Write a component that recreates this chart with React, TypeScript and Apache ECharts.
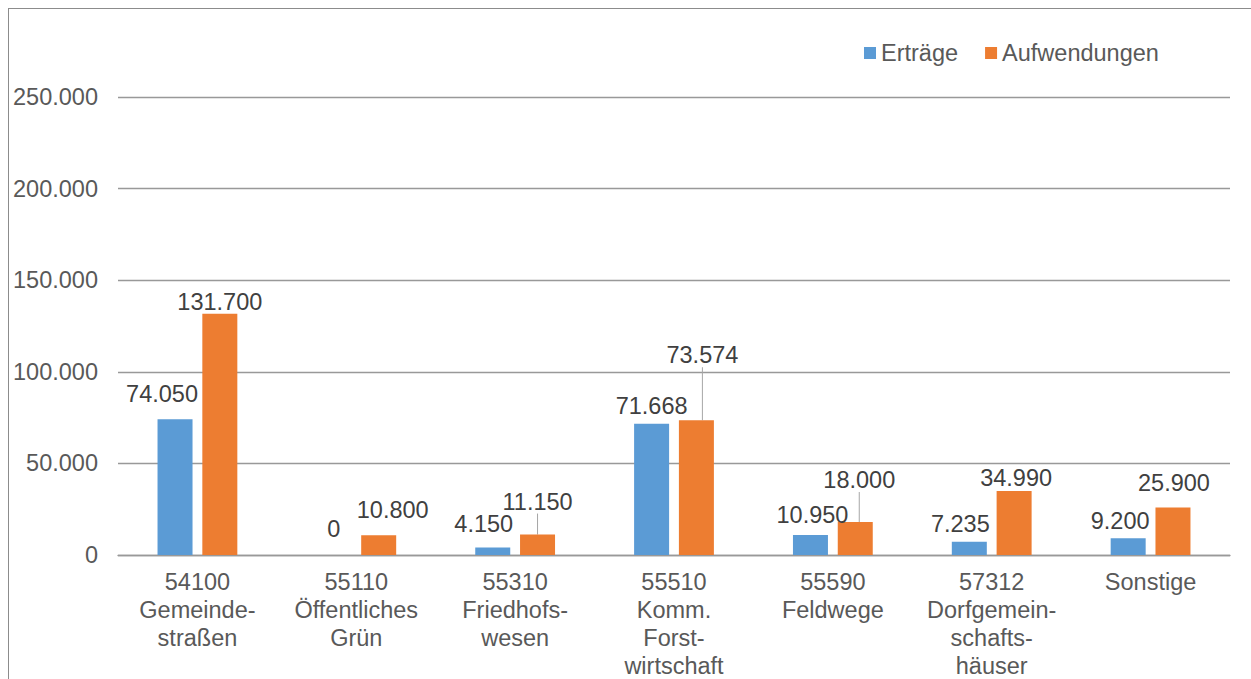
import React, { useEffect, useRef } from "react";
import * as echarts from "echarts";

const categories = [
  "54100\nGemeinde-\nstraßen",
  "55110\nÖffentliches\nGrün",
  "55310\nFriedhofs-\nwesen",
  "55510\nKomm.\nForst-\nwirtschaft",
  "55590\nFeldwege",
  "57312\nDorfgemein-\nschafts-\nhäuser",
  "Sonstige",
];
const ertraege = [74050, 0, 4150, 71668, 10950, 7235, 9200];
const aufwendungen = [131700, 10800, 11150, 73574, 18000, 34990, 25900];
const yTicks = { min: 0, max: 250000, interval: 50000 };

// label nudges (dx, dy) in px, as placed in the original
const shiftErtraege = [[-13, -8], [0, -9], [-9, -6], [0, -1], [2, -3], [-9, -1], [-8, 0]];
const shiftAufwendungen = [[0, 5], [14, -8], [0, -16], [6, -48], [4, -25], [2, 4], [1, -8]];
const leaderAufwendungen = [false, false, true, true, true, false, false];

const fmt = (v: number) => String(v).replace(/\B(?=(\d{3})+(?!\d))/g, ".");

export default function App() {
  const ref = useRef<HTMLDivElement>(null);
  useEffect(() => {
    if (!ref.current) return;
    const chart = echarts.init(ref.current, undefined, { renderer: "svg" });
    const font = "Liberation Sans, Arial, sans-serif";
    const fs = 23.5;
    const labelBase = {
      show: true,
      position: "top",
      distance: 5,
      fontSize: fs,
      color: "#404040",
      fontFamily: font,
      formatter: (p: any) => fmt(p.value),
    };
    chart.setOption({
      animation: false,
      textStyle: { fontFamily: font },
      legend: {
        left: 850,
        top: 27,
        itemWidth: 12,
        itemHeight: 12,
        itemGap: 27,
        icon: "rect",
        textStyle: { fontSize: fs, color: "#595959", fontFamily: font },
        data: ["Erträge", "Aufwendungen"],
      },
      grid: { left: 109, top: 88, width: 1112, height: 458 },
      xAxis: {
        type: "category",
        data: categories,
        axisLine: { lineStyle: { color: "#999999", width: 1.3 } },
        axisTick: { show: false },
        axisLabel: {
          interval: 0,
          fontSize: fs,
          lineHeight: 28,
          color: "#595959",
          margin: 13,
          fontFamily: font,
        },
      },
      yAxis: {
        type: "value",
        min: yTicks.min,
        max: yTicks.max,
        interval: yTicks.interval,
        axisLine: { show: false },
        axisTick: { show: false },
        splitLine: { lineStyle: { color: "#999999", width: 1.3 } },
        axisLabel: {
          formatter: (v: number) => fmt(v),
          fontSize: fs,
          color: "#595959",
          margin: 20,
          fontFamily: font,
        },
      },
      series: [
        {
          name: "Erträge",
          type: "bar",
          barWidth: 35,
          barGap: "28%",
          itemStyle: { color: "#5B9BD5" },
          label: labelBase,
          labelLayout: (p: any) => ({ dx: shiftErtraege[p.dataIndex][0], dy: shiftErtraege[p.dataIndex][1] }),
          data: ertraege,
        },
        {
          name: "Aufwendungen",
          type: "bar",
          barWidth: 35,
          barGap: "28%",
          itemStyle: { color: "#ED7D31" },
          label: labelBase,
          labelLine: { show: false, lineStyle: { color: "#a6a6a6", width: 1 } },
          labelLayout: (p: any) => ({ dx: shiftAufwendungen[p.dataIndex][0], dy: shiftAufwendungen[p.dataIndex][1] }),
          data: aufwendungen.map((v, i) => ({
            value: v,
            labelLine: { show: leaderAufwendungen[i], lineStyle: { color: "#a6a6a6", width: 1 } },
          })),
        },
      ],
    });
    return () => chart.dispose();
  }, []);
  return (
    <div
      style={{
        position: "fixed",
        left: 8,
        top: 8,
        width: 1250,
        height: 700,
        border: "1px solid #8c8c8c",
        background: "#fff",
      }}
    >
      <div ref={ref} style={{ width: 1250, height: 700 }} />
    </div>
  );
}
